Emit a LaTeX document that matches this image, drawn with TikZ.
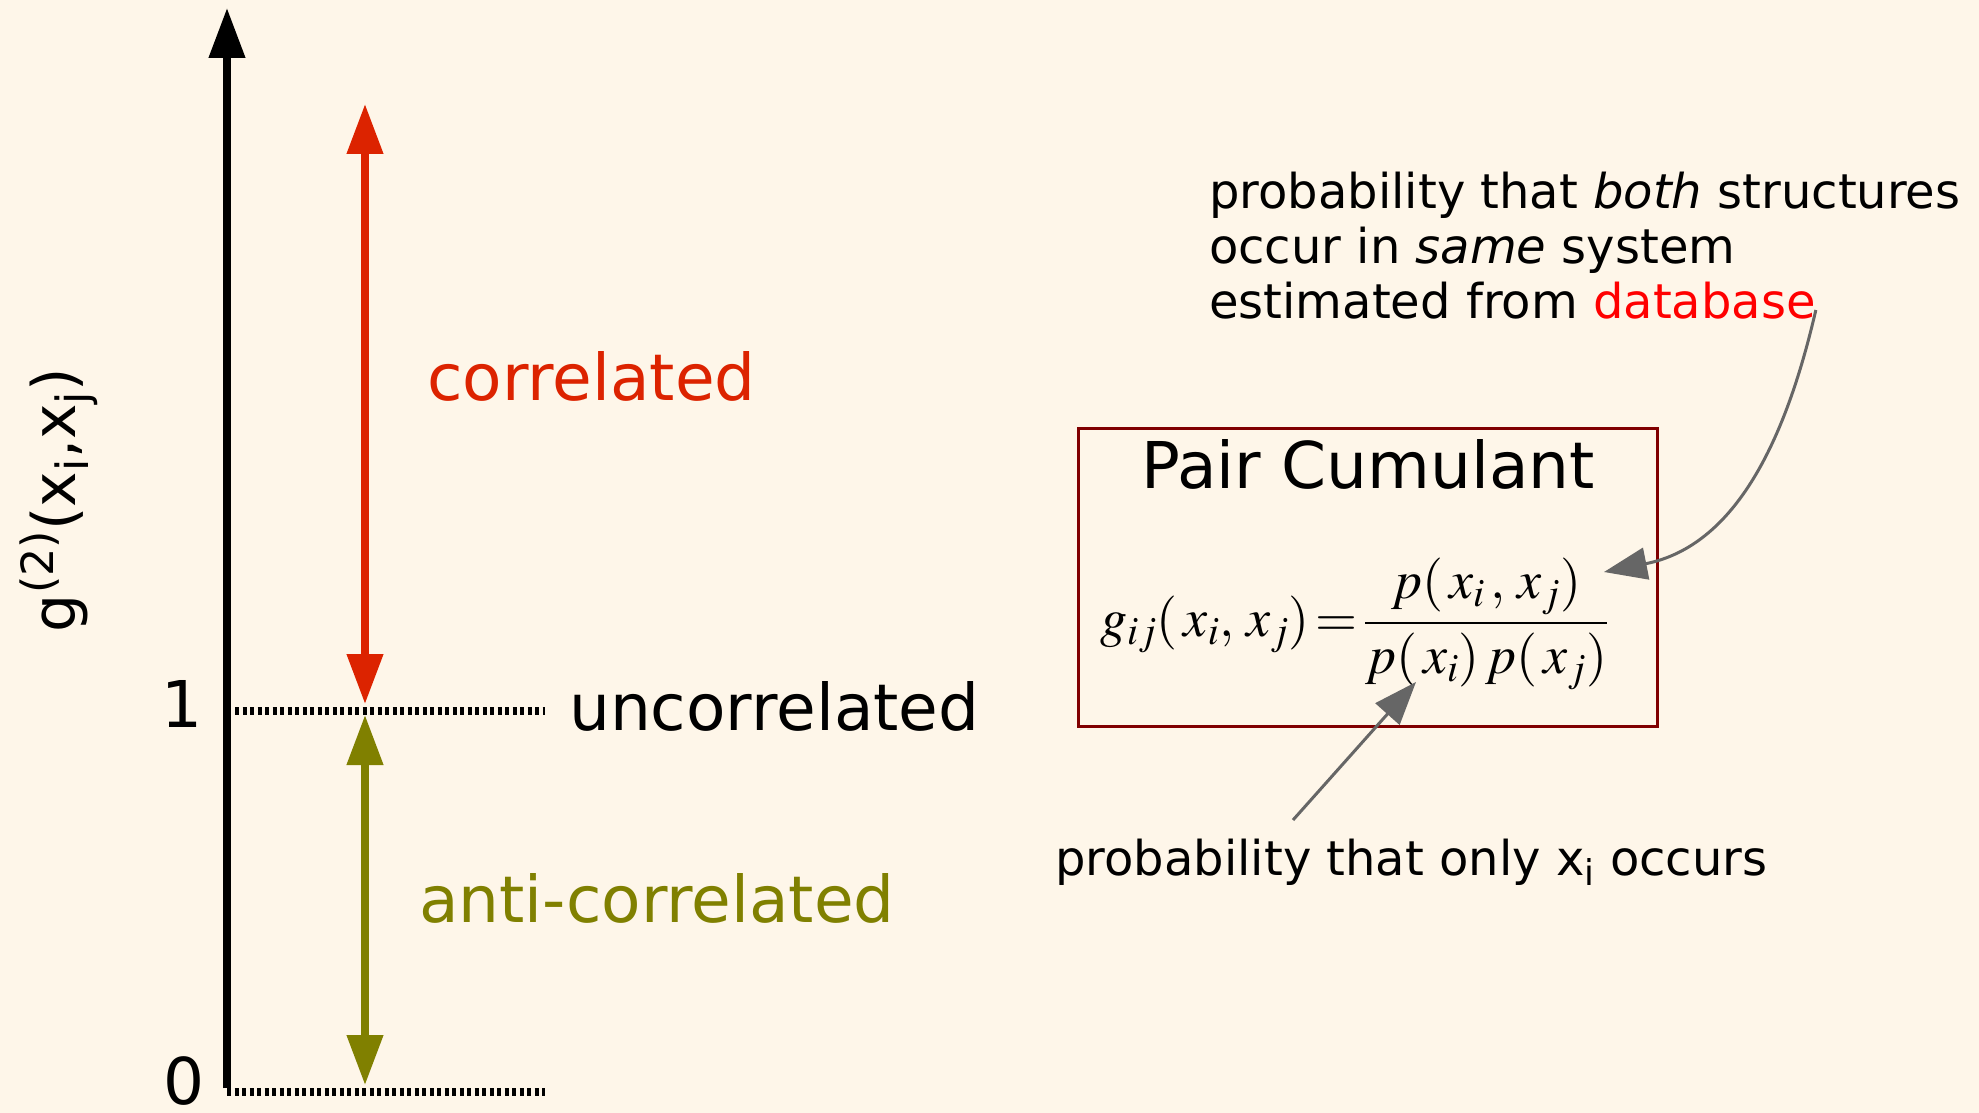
\documentclass[tikz,border=0pt]{standalone}
\usepackage{mathptmx}
\usepackage{fontspec}
\setmainfont{DejaVu Sans}
\usetikzlibrary{arrows.meta}
\definecolor{bg}{HTML}{FEF6E9}
\definecolor{corrred}{HTML}{DC2300}
\definecolor{antiol}{HTML}{808000}
\definecolor{boxred}{HTML}{800000}
\definecolor{dbred}{HTML}{FF0000}
\definecolor{annot}{HTML}{666666}
\tikzset{
  big/.style={inner sep=0pt, font=\fontsize{64.5}{75}\selectfont},
  small/.style={inner sep=0pt, font=\fontsize{48}{55}\selectfont},
  axisline/.style={line width=7.5pt, -{Triangle[length=50pt,width=35pt]}},
  rangearrow/.style={line width=7.5pt, {Triangle[length=50pt,width=35pt]}-{Triangle[length=50pt,width=35pt]}},
  levelline/.style={line width=7.5pt, dash pattern=on 4pt off 3.5pt},
  pointer/.style={draw=annot, line width=3pt, -{Triangle[length=43pt,width=32pt]}, fill=none},
}
\begin{document}
\begin{tikzpicture}[x=1pt,y=-1pt]
\fill[bg] (0,0) rectangle (1979,1113);
\useasboundingbox (0,0) rectangle (1979,1113);

% axis
\coordinate (axbot) at (227,1088);
\coordinate (axtop) at (227,8);
\draw[axisline] (axbot) -- (axtop);

% level lines
\coordinate (l1a) at (235,711);
\coordinate (l1b) at (545,711);
\coordinate (l0a) at (227,1092);
\coordinate (l0b) at (545,1092);
\draw[levelline] (l1a) -- (l1b);
\draw[levelline] (l0a) -- (l0b);

% range arrows
\coordinate (ctop) at (365,104);
\coordinate (cbot) at (365,704);
\coordinate (atop) at (365,715);
\coordinate (abot) at (365,1085);
\draw[rangearrow, draw=corrred, fill=corrred] (ctop) -- (cbot);
\draw[rangearrow, draw=antiol, fill=antiol] (atop) -- (abot);

% labels
\node[big, anchor=base] (one) at (182,727) {1};
\node[big, anchor=base] (zero) at (184,1104) {0};
\node[big, anchor=base west, text=corrred] (corr) at (427,400) {correlated};
\node[big, anchor=base west] (uncorr) at (569,730) {uncorrelated};
\node[big, anchor=base west, text=antiol] (anti) at (419,922) {anti-correlated};
\node[inner sep=0pt, font=\fontsize{60}{70}\selectfont, rotate=90] (ylab) at (59,500) {g\textsuperscript{(2)}(x\textsubscript{i},x\textsubscript{j})};

% box
\node[draw=boxred, line width=3pt, minimum width=579pt, minimum height=298pt, inner sep=0pt] (box) at (1367.5,577) {};
\node[big, anchor=base] (title) at (1368,488) {Pair Cumulant};
\node[inner sep=0pt, anchor=west, font=\fontsize{54}{60}\selectfont] (formula) at (1100,624)
  {$\displaystyle g_{ij}(\,x_i,\,x_j)\!=\!\frac{p(\,x_i\,,\,x_j)}{p(\,x_i)\,p(\,x_j)}$};

% top annotation
\node[small, anchor=base west] (t1) at (1209,208) {probability that \textit{both} structures};
\node[small, anchor=base west] (t2) at (1209,263) {occur in \textit{same} system};
\node[small, anchor=base west] (t3) at (1209,318) {estimated from \textcolor{dbred}{database}};
\coordinate (dbend) at ([yshift=8pt]t3.base east);
\coordinate (numtip) at (1604,572);
\draw[pointer] (dbend) .. controls (1788,430) and (1740,545) .. (numtip);

% bottom annotation
\node[small, anchor=base west] (b1) at (1055,875) {probability that only x\textsubscript{i} occurs};
\coordinate (bstart) at (1293,820);
\coordinate (dentip) at (1416,682);
\draw[pointer] (bstart) -- (dentip);
\end{tikzpicture}
\end{document}
